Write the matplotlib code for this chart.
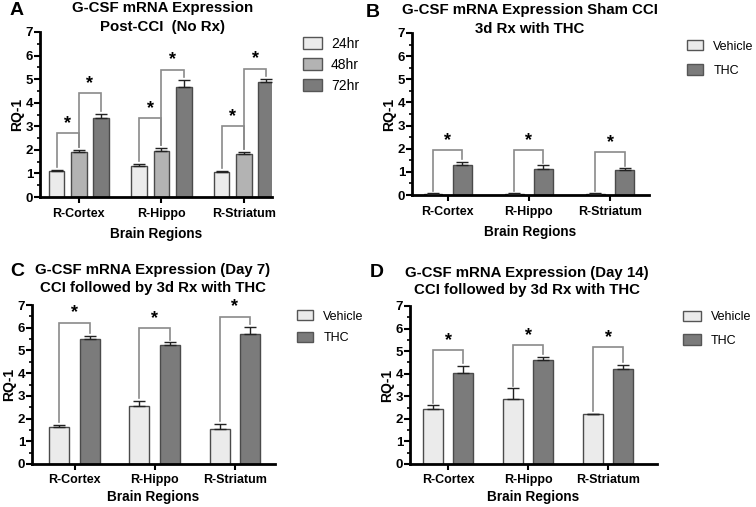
import matplotlib
matplotlib.use("Agg")
import matplotlib.pyplot as plt
from matplotlib.ticker import MultipleLocator
from matplotlib.patches import Patch

plt.rcParams['font.family'] = ['Liberation Sans', 'DejaVu Sans']

regions = ["R-Cortex", "R-Hippo", "R-Striatum"]

# Panel A
a_series = ["24hr", "48hr", "72hr"]
a_means = [[1.10, 1.30, 1.05], [1.90, 1.95, 1.82], [3.35, 4.68, 4.90]]
a_errs = [[0.05, 0.12, 0.05], [0.11, 0.12, 0.10], [0.17, 0.30, 0.10]]
a_brk_lo = [2.70, 3.35, 3.00]   # 24 vs 48 bracket height
a_brk_hi = [4.40, 5.40, 5.45]   # 48 vs 72 bracket height

# Panel B
b_series = ["Vehicle", "THC"]
b_means = [[0.05, 0.05, 0.05], [1.30, 1.13, 1.07]]
b_errs = [[0.02, 0.02, 0.02], [0.13, 0.15, 0.08]]
b_brk = [1.93, 1.93, 1.85]

# Panel C
c_means = [[1.63, 2.57, 1.55], [5.50, 5.22, 5.72]]
c_errs = [[0.10, 0.21, 0.22], [0.15, 0.13, 0.33]]
c_brk = [6.22, 5.98, 6.49]

# Panel D
d_means = [[2.43, 2.87, 2.20], [4.05, 4.60, 4.20]]
d_errs = [[0.17, 0.48, 0.02], [0.30, 0.15, 0.18]]
d_brk = [5.04, 5.26, 5.18]

c3 = ["#ebebeb", "#b3b3b3", "#7b7b7b"]
c2 = ["#ebebeb", "#7b7b7b"]
edge = "#4a4a4a"
brk_color = "#8a8a8a"

W, H = 756, 507
fig = plt.figure(figsize=(W / 100, H / 100), dpi=100)


def px_axes(x0, x1, ytop, ybot):
    return fig.add_axes([x0 / W, 1 - ybot / H, (x1 - x0) / W, (ybot - ytop) / H])


def style_axes(ax, xlim, tpad=4, lpad=5):
    ax.set_ylim(0, 7)
    ax.set_xlim(*xlim)
    for s in ["top", "right"]:
        ax.spines[s].set_visible(False)
    for s in ["left", "bottom"]:
        ax.spines[s].set_linewidth(2.0)
        ax.spines[s].set_color("black")
    ax.yaxis.set_major_locator(MultipleLocator(1))
    ax.yaxis.set_minor_locator(MultipleLocator(0.5))
    ax.tick_params(axis="y", which="major", length=4, width=1.5, labelsize=9.5, pad=1)
    ax.tick_params(axis="y", which="minor", length=2.5, width=1.2)
    ax.tick_params(axis="x", length=4, width=1.5, labelsize=9, pad=tpad)
    ax.set_xticks(range(len(regions)))
    ax.set_xticklabels(regions, fontweight="bold")
    for lab in ax.get_yticklabels():
        lab.set_fontweight("bold")
    ax.set_xlabel("Brain Regions", fontweight="bold", fontsize=9.8, labelpad=lpad)
    ax.set_ylabel("RQ-1", fontweight="bold", fontsize=10, labelpad=1)


def bars(ax, means, errs, colors, offsets, width):
    for k, (m, e) in enumerate(zip(means, errs)):
        xs = [i + offsets[k] for i in range(len(m))]
        ax.bar(xs, m, width=width, color=colors[k], edgecolor=edge, linewidth=1.0, zorder=2)
        ax.errorbar(xs, m, yerr=[[0] * len(e), e], fmt="none", ecolor="#222222",
                    elinewidth=1.0, capsize=4.5, capthick=1.0, zorder=3)


def bracket(ax, x1, x2, y, top1, top2, gap=0.12):
    ax.plot([x1, x1, x2, x2], [top1 + gap, y, y, top2 + gap], color=brk_color,
            lw=1.2, zorder=4, solid_joinstyle="miter")
    ax.text((x1 + x2) / 2, y + 0.05, "*", ha="center", va="bottom",
            fontsize=13, fontweight="bold", zorder=5)


def legend(labels, colors, x, y, spacing, fs, hl, pad):
    handles = [Patch(facecolor=c, edgecolor="#555555", linewidth=1.0) for c in colors]
    fig.legend(handles, labels, loc="upper left", bbox_to_anchor=(x / W, 1 - y / H),
               frameon=False, fontsize=fs, handlelength=hl, handleheight=0.9,
               handletextpad=pad, labelspacing=spacing, borderaxespad=0, borderpad=0)


def title(x, y1, y2, line1, line2):
    for y, t in [(y1, line1), (y2, line2)]:
        fig.text(x / W, 1 - y / H, t, ha="center", va="top", fontsize=10.8,
                 fontweight="bold")


# ---- Panel A
axA = px_axes(40, 272, 32, 197)
offA = [-0.27, 0.0, 0.27]
bars(axA, a_means, a_errs, c3, offA, 0.19)
for i in range(3):
    bracket(axA, i + offA[0], i + offA[1], a_brk_lo[i],
            a_means[0][i] + a_errs[0][i], a_means[1][i] + a_errs[1][i])
    bracket(axA, i + offA[1], i + offA[2], a_brk_hi[i],
            a_means[1][i] + a_errs[1][i], a_means[2][i] + a_errs[2][i])
style_axes(axA, (-0.47, 2.34))
title(162.5, 1, 20, "G-CSF mRNA Expression", "Post-CCI  (No Rx)")
legend(a_series, c3, 303, 37, 0.5, 10, 1.4, 0.6)

# ---- Panel B
axB = px_axes(412, 649, 33, 195)
off2 = [-0.18, 0.18]
bars(axB, b_means, b_errs, c2, off2, 0.23)
for i in range(3):
    bracket(axB, i + off2[0], i + off2[1], b_brk[i],
            b_means[0][i] + b_errs[0][i], b_means[1][i] + b_errs[1][i])
style_axes(axB, (-0.44, 2.48))
title(529.5, 3, 22, "G-CSF mRNA Expression Sham CCI", "3d Rx with THC")
legend(b_series, c2, 687, 40, 0.95, 9, 1.3, 0.8)

# ---- Panel C
axC = px_axes(32, 275, 305, 464)
offC = [-0.19, 0.19]
bars(axC, c_means, c_errs, c2, offC, 0.25)
for i in range(3):
    bracket(axC, i + offC[0], i + offC[1], c_brk[i],
            c_means[0][i] + c_errs[0][i], c_means[1][i] + c_errs[1][i])
style_axes(axC, (-0.53, 2.5), tpad=3, lpad=3)
title(152.5, 263, 281, "G-CSF mRNA Expression (Day 7)", "CCI followed by 3d Rx with THC")
legend(b_series, c2, 297, 310, 0.75, 9, 1.3, 0.8)

# ---- Panel D
axD = px_axes(410, 657, 306, 464)
offD = [-0.19, 0.19]
bars(axD, d_means, d_errs, c2, offD, 0.25)
for i in range(3):
    bracket(axD, i + offD[0], i + offD[1], d_brk[i],
            d_means[0][i] + d_errs[0][i], d_means[1][i] + d_errs[1][i])
style_axes(axD, (-0.475, 2.61), tpad=3, lpad=3)
title(526.5, 266, 283, "G-CSF mRNA Expression (Day 14)", "CCI followed by 3d Rx with THC")
legend(b_series, c2, 683, 311, 0.85, 9, 1.4, 0.8)

# panel letters
for letter, x, y in [("A", 10, 2), ("B", 366, 4), ("C", 10, 263), ("D", 370, 264)]:
    fig.text(x / W, 1 - y / H, letter, ha="left", va="top", fontsize=14, fontweight="bold")

fig.savefig("out.png", dpi=100, facecolor="white")
